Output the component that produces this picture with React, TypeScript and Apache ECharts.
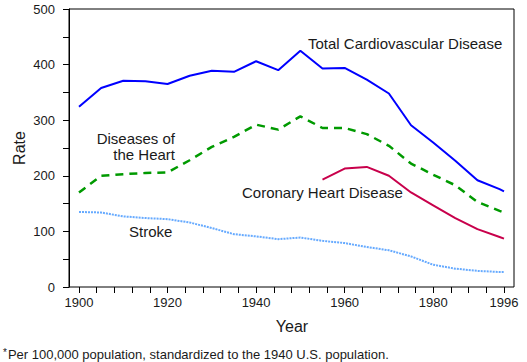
import React, { useEffect, useRef } from "react";
import * as echarts from "echarts";

const years = [1900, 1905, 1910, 1915, 1920, 1925, 1930, 1935, 1940, 1945, 1950, 1955, 1960, 1965, 1970, 1975, 1980, 1985, 1990, 1995, 1996];
const totalCVD = [324, 358, 371, 370, 365, 380, 389, 387, 406, 390, 425, 393, 394, 373, 348, 291, 260, 227, 192, 176, 172];
const heartDisease = [170, 200, 203, 205, 206, 228, 252, 270, 292, 283, 307, 286, 286, 275, 254, 222, 202, 183, 153, 137, 134];
const chdYears = [1955, 1960, 1965, 1970, 1975, 1980, 1985, 1990, 1995, 1996];
const chd = [193, 213, 216, 200, 170, 147, 124, 104, 90, 87];
const stroke = [135, 134, 127, 124, 122, 116, 106, 95, 91, 86, 89, 83, 79, 72, 66, 55, 40, 33, 29, 27, 27];
const xLabels = [1900, 1920, 1940, 1960, 1980, 1996];
const yLabels = [0, 100, 200, 300, 400, 500];

const FONT = "'Liberation Sans', Arial, Helvetica, sans-serif";
const TXT = "#1a1a1a";

export default function App() {
  const ref = useRef<HTMLDivElement>(null);
  useEffect(() => {
    if (!ref.current) return;
    const chart = echarts.init(ref.current, null, { renderer: "svg" });
    const pair = (xs: number[], ys: number[]) => xs.map((x, i) => [x, ys[i]]);
    chart.setOption({
      animation: false,
      textStyle: { fontFamily: FONT },
      grid: [
        { left: 69, right: 13, top: 9, bottom: 75, show: true, borderColor: "#000", borderWidth: 1, backgroundColor: "transparent" },
        { left: 79, right: 23, top: 9, bottom: 75 },
      ],
      xAxis: [
        { gridIndex: 0, type: "value", show: false, min: 0, max: 1 },
        {
          gridIndex: 1,
          type: "value",
          min: 1900,
          max: 1996,
          interval: 4,
          axisLine: { show: false },
          axisTick: { show: true, length: 6, lineStyle: { color: "#000", width: 1 } },
          splitLine: { show: false },
          axisLabel: {
            color: TXT,
            fontSize: 13,
            fontFamily: FONT,
            margin: 9,
            showMinLabel: true,
            showMaxLabel: true,
            formatter: (v: number) => (xLabels.includes(v) ? String(v) : ""),
          },
        },
      ],
      yAxis: [
        {
          gridIndex: 0,
          type: "value",
          min: 0,
          max: 500,
          interval: 50,
          axisLine: { show: true, lineStyle: { color: "#000", width: 1 } },
          axisTick: { show: true, length: 6, lineStyle: { color: "#000", width: 1 } },
          splitLine: { show: false },
          axisLabel: {
            color: TXT,
            fontSize: 13,
            fontFamily: FONT,
            margin: 14,
            formatter: (v: number) => (yLabels.includes(v) ? String(v) : ""),
          },
        },
        { gridIndex: 1, type: "value", min: 0, max: 500, show: false },
      ],
      series: [
        {
          type: "line",
          xAxisIndex: 1,
          yAxisIndex: 1,
          data: pair(years, stroke),
          showSymbol: false,
          lineStyle: { color: "#66aaff", width: 2, type: [2, 1] },
        },
        {
          type: "line",
          xAxisIndex: 1,
          yAxisIndex: 1,
          data: pair(chdYears, chd),
          showSymbol: false,
          lineStyle: { color: "#c8004b", width: 2 },
        },
        {
          type: "line",
          xAxisIndex: 1,
          yAxisIndex: 1,
          data: pair(years, heartDisease),
          showSymbol: false,
          lineStyle: { color: "#009a00", width: 2.5, type: [8, 6] },
        },
        {
          type: "line",
          xAxisIndex: 1,
          yAxisIndex: 1,
          data: pair(years, totalCVD),
          showSymbol: false,
          lineStyle: { color: "#0000ff", width: 2 },
        },
      ],
      graphic: [
        { type: "text", left: 308, top: 36, style: { text: "Total Cardiovascular Disease", fill: TXT, font: `15px ${FONT}` } },
        { type: "text", x: 175, y: 146, style: { text: "Diseases of\nthe Heart", fill: TXT, font: `15px ${FONT}`, align: "right", verticalAlign: "middle", lineHeight: 16 } },
        { type: "text", left: 242, top: 185, style: { text: "Coronary Heart Disease", fill: TXT, font: `15px ${FONT}` } },
        { type: "text", left: 129, top: 224, style: { text: "Stroke", fill: TXT, font: `15px ${FONT}` } },
        { type: "text", x: 292, y: 326, style: { text: "Year", fill: TXT, font: `16px ${FONT}`, align: "center", verticalAlign: "middle" } },
        { type: "text", x: 19, y: 148, rotation: Math.PI / 2, style: { text: "Rate", fill: TXT, font: `16px ${FONT}`, align: "center", verticalAlign: "middle" } },
        {
          type: "text",
          x: 3,
          y: 354,
          style: {
            text: "{a|*}{b|Per 100,000 population, standardized to the 1940 U.S. population.}",
            verticalAlign: "middle",
            rich: {
              a: { fontSize: 10, fontFamily: FONT, fill: TXT, verticalAlign: "top", padding: [0, 1, 3, 0] },
              b: { fontSize: 13, fontFamily: FONT, fill: TXT },
            },
          },
        },
      ],
    });
    return () => chart.dispose();
  }, []);
  return <div ref={ref} style={{ width: 527, height: 362, position: "absolute", left: 0, top: 0 }} />;
}
